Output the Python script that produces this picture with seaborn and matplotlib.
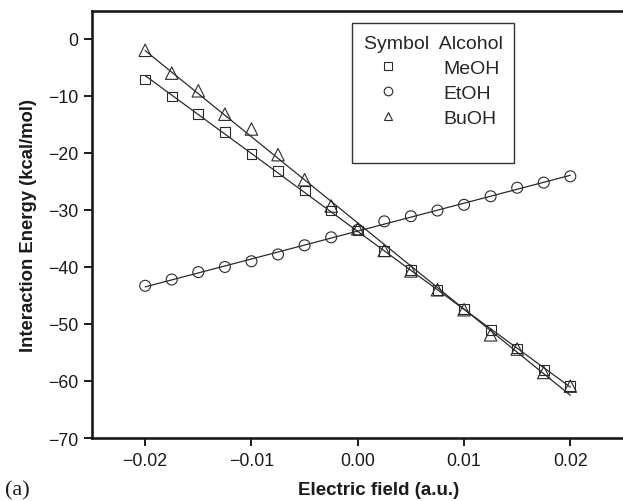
import numpy as np
import matplotlib
matplotlib.use("Agg")
import matplotlib.pyplot as plt
from matplotlib.lines import Line2D
import seaborn as sns

# Electric field values (a.u.) and interaction energies (kcal/mol)
field = [-0.02, -0.0175, -0.015, -0.0125, -0.01, -0.0075, -0.005, -0.0025, 0.0,
         0.0025, 0.005, 0.0075, 0.01, 0.0125, 0.015, 0.0175, 0.02]
meoh = [-7.1, -10.1, -13.2, -16.3, -20.2, -23.1, -26.6, -30.1, -33.6,
        -37.2, -40.6, -44.0, -47.4, -51.1, -54.3, -58.1, -60.9]
etoh = [-43.3, -42.2, -40.9, -40.0, -39.0, -37.8, -36.2, -34.8, -33.5,
        -32.0, -31.1, -30.1, -29.1, -27.6, -26.1, -25.2, -24.1]
buoh = [-2.0, -6.0, -9.1, -13.2, -15.8, -20.3, -24.7, -29.3, -33.3,
        -37.1, -40.7, -44.0, -47.5, -51.9, -54.4, -58.5, -60.9]

alcohols = ["MeOH", "EtOH", "BuOH"]
series = [meoh, etoh, buoh]
markers = ["s", "o", "^"]
marker_sizes = [50, 62, 80]

xticks = [-0.02, -0.01, 0.0, 0.01, 0.02]
xtick_labels = ["\u22120.02", "\u22120.01", "0.00", "0.01", "0.02"]
yticks = [0, -10, -20, -30, -40, -50, -60, -70]
ytick_labels = ["0", "\u221210", "\u221220", "\u221230", "\u221240", "\u221250", "\u221260", "\u221270"]

sns.set_style("ticks")
plt.rcParams["font.family"] = ["Liberation Sans", "DejaVu Sans"]

ink = "#2a2a2a"
fig = plt.figure(figsize=(6.23, 5.02), dpi=100)
ax = fig.add_axes([92 / 623, 63 / 502, 574 / 623, 427 / 502])

for vals, mk, ms in zip(series, markers, marker_sizes):
    sns.regplot(x=np.array(field), y=np.array(vals), ax=ax, ci=None, marker=mk,
                color=ink, truncate=True,
                scatter_kws=dict(s=ms, facecolors="none", edgecolors=ink,
                                 linewidths=0.8, alpha=1, zorder=3),
                line_kws=dict(color=ink, lw=0.9, zorder=2))

ax.set_xlim(-0.025, 0.029)
ax.set_ylim(-70, 4.9)
ax.set_xticks(xticks)
ax.set_xticklabels(xtick_labels)
ax.set_yticks(yticks)
ax.set_yticklabels(ytick_labels)
ax.tick_params(axis="both", direction="out", length=6, width=1.4, color="#1a1a1a",
               labelsize=12.8, pad=4, labelcolor="#1a1a1a")

for side in ["left", "bottom", "top"]:
    ax.spines[side].set_linewidth(1.9)
    ax.spines[side].set_color("#1a1a1a")
ax.spines["right"].set_visible(False)

ax.set_xlabel("Electric field (a.u.)", fontsize=13.5, fontweight="bold",
              color="#1a1a1a", labelpad=9)
ax.set_ylabel("Interaction Energy (kcal/mol)", fontsize=13.3, fontweight="bold",
              color="#1a1a1a", labelpad=8)

handles = [Line2D([], [], ls="none", marker=mk, ms=6.2, mfc="none", mec=ink, mew=0.8)
           for mk in markers]
handles.append(Line2D([], [], ls="none"))
labels = alcohols + [""]
leg = ax.legend(handles, labels, title="Symbol  Alcohol", loc="upper left",
                bbox_to_anchor=(0.453, 0.972), borderaxespad=0, fontsize=14,
                title_fontsize=14, frameon=True, fancybox=False, framealpha=1,
                edgecolor="#333333", handlelength=2.3, handletextpad=1.7,
                labelspacing=0.38, borderpad=0.6)
leg.get_frame().set_linewidth(1.0)

fig.text(0.008, 0.012, "(a)", fontsize=16, family=["Liberation Serif", "DejaVu Serif"],
         color="#1a1a1a")

fig.savefig("out.png", dpi=100)
